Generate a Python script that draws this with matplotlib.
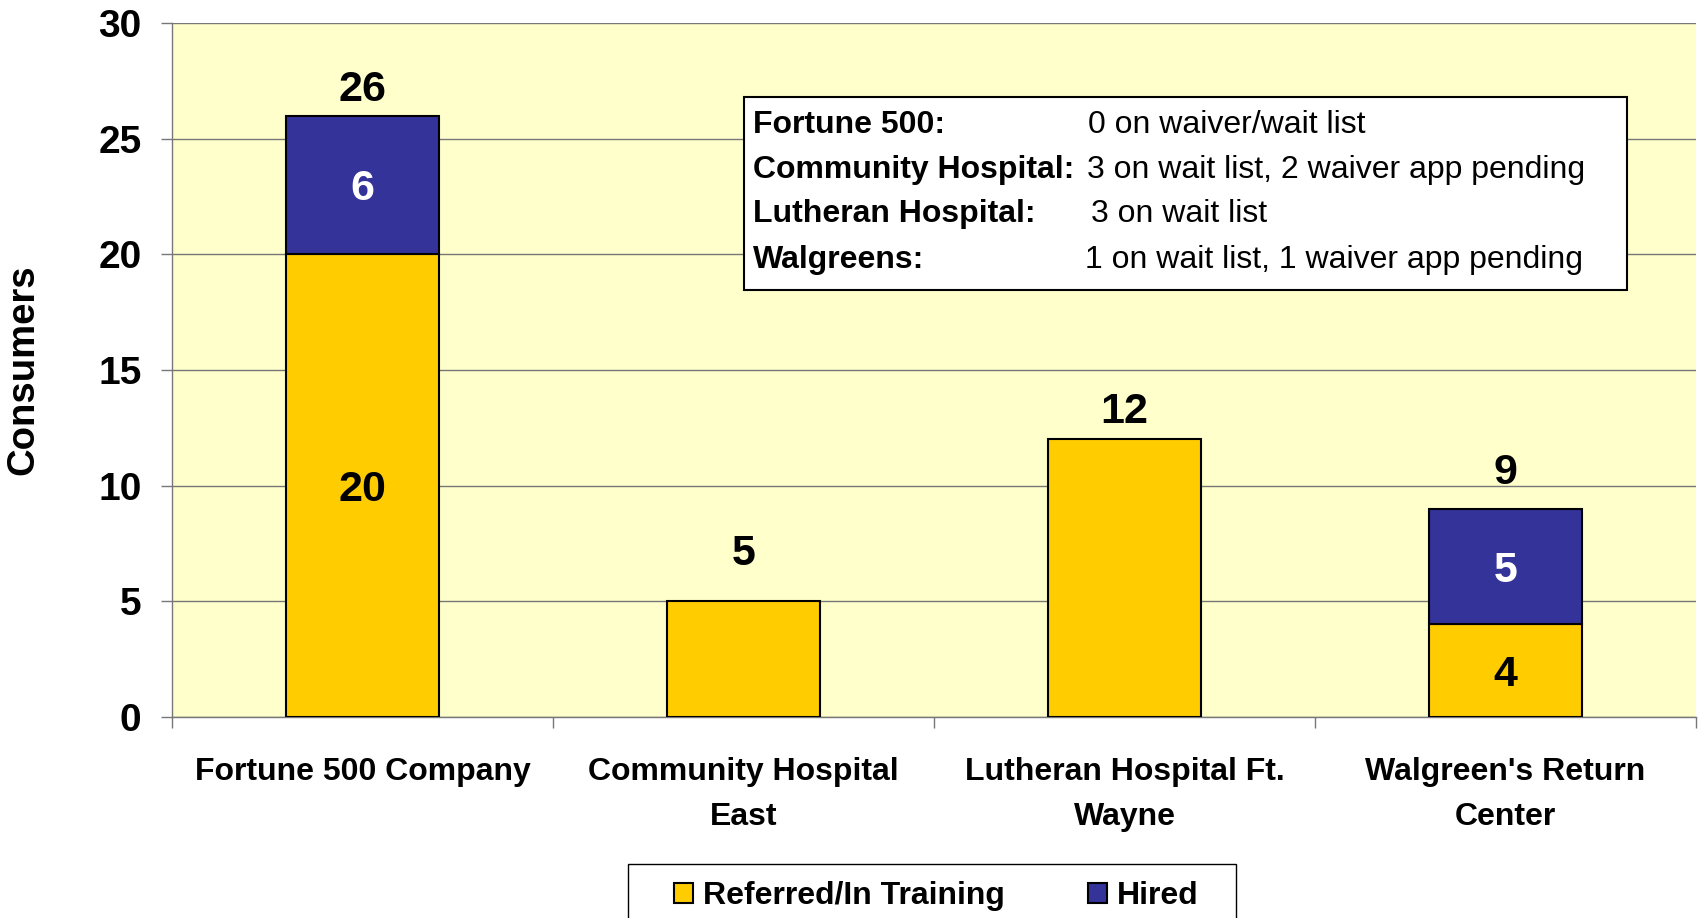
import matplotlib.pyplot as plt
import matplotlib.patches as patches
from matplotlib.ticker import FixedLocator

plt.rcParams["font.family"] = ["Liberation Sans", "DejaVu Sans"]

categories = [
    "Fortune 500 Company",
    "Community Hospital\nEast",
    "Lutheran Hospital Ft.\nWayne",
    "Walgreen's Return\nCenter",
]
referred = [20, 5, 12, 4]
hired = [6, 0, 0, 5]

note_labels = ["Fortune 500:", "Community Hospital:", "Lutheran Hospital:", "Walgreens:"]
note_values = [
    "0 on waiver/wait list",
    "3 on wait list, 2 waiver app pending",
    "3 on wait list",
    "1 on wait list, 1 waiver app pending",
]

YELLOW = "#FFCC00"
BLUE = "#333399"
PLOT_BG = "#FFFFCC"
GRID = "#777777"


def main():
    fig = plt.figure(figsize=(16.98, 9.18), dpi=100)
    ax = fig.add_axes([172 / 1698, 1 - 717 / 918, 1524 / 1698, 694 / 918])
    ax.set_facecolor(PLOT_BG)

    x = list(range(len(categories)))
    totals = [r + h for r, h in zip(referred, hired)]

    b1 = ax.bar(x, referred, width=0.4, color=YELLOW, edgecolor="black", lw=1.5,
                label="Referred/In Training", zorder=3)
    b2 = ax.bar(x, hired, width=0.4, bottom=referred, color=BLUE, edgecolor="black",
                lw=1.5, label="Hired", zorder=3)

    # hide the empty hired segments
    for rect, h in zip(b2, hired):
        if h == 0:
            rect.set_visible(False)

    # values inside segments (only on the stacked bars)
    nudge = 0.19
    for i in x:
        if referred[i] and hired[i]:
            ax.text(i, referred[i] / 2 - nudge, str(referred[i]), ha="center", va="center",
                    fontsize=31, fontweight="bold", color="black", zorder=4)
            ax.text(i, referred[i] + hired[i] / 2 - nudge, str(hired[i]), ha="center",
                    va="center", fontsize=31, fontweight="bold", color="white", zorder=4)

    # totals above bars
    total_pad = [1.1, 2.05, 1.2, 1.55]
    for i in x:
        ax.text(i, totals[i] + total_pad[i], str(totals[i]), ha="center", va="center",
                fontsize=31, fontweight="bold", color="black", zorder=4)

    ax.set_xlim(-0.5, 3.5)
    ax.set_ylim(0, 30)
    ax.set_yticks(range(0, 31, 5))
    ax.yaxis.grid(True, color=GRID, lw=1.0, zorder=0)
    ax.set_axisbelow(True)

    ax.set_xticks(x)
    ax.set_xticklabels(categories, fontsize=23, fontweight="bold", linespacing=1.63)
    ax.xaxis.set_minor_locator(FixedLocator([-0.5, 0.5, 1.5, 2.5, 3.5]))
    ax.tick_params(axis="x", which="major", length=0, pad=29)
    ax.tick_params(axis="x", which="minor", length=8, width=1, color=GRID, direction="out")
    ax.tick_params(axis="y", length=8, width=1, color=GRID, direction="out", pad=14,
                   labelsize=28)
    for lab in ax.get_yticklabels():
        lab.set_fontweight("bold")

    for side in ("top", "right"):
        ax.spines[side].set_visible(False)
    for side in ("left", "bottom"):
        ax.spines[side].set_color(GRID)
        ax.spines[side].set_linewidth(1.0)

    ax.set_ylabel("Consumers", fontsize=27.5, fontweight="bold")
    ax.yaxis.set_label_coords(-0.086, 0.5)

    # note box
    box = patches.Rectangle((1.0, 18.46), 2.32, 8.34, fc="white", ec="black", lw=1.5,
                            zorder=5)
    ax.add_patch(box)
    row_y = [25.6, 23.66, 21.76, 19.77]
    value_x = [1.905, 1.902, 1.912, 1.897]
    for lab, val, yy, vx in zip(note_labels, note_values, row_y, value_x):
        ax.text(1.025, yy, lab, ha="left", va="center", fontsize=23, fontweight="bold",
                zorder=6)
        ax.text(vx, yy, val, ha="left", va="center", fontsize=23, zorder=6)

    # legend with its own frame (bottom of frame runs off the image)
    fig.legend([b1, b2], ["Referred/In Training", "Hired"], loc="center",
               bbox_to_anchor=(936 / 1698, 1 - 896 / 918), ncol=2, frameon=False,
               prop={"weight": "bold", "size": 23}, handlelength=0.6, handleheight=0.6,
               handletextpad=0.3, columnspacing=2.6)
    frame = patches.Rectangle((628 / 1698, -0.05), 608 / 1698, 0.05 + 54 / 918,
                              transform=fig.transFigure, fc="white", ec="black", lw=1.0,
                              zorder=0)
    fig.patches.append(frame)

    fig.savefig("out.png", dpi=100, facecolor="white")


if __name__ == "__main__":
    main()
